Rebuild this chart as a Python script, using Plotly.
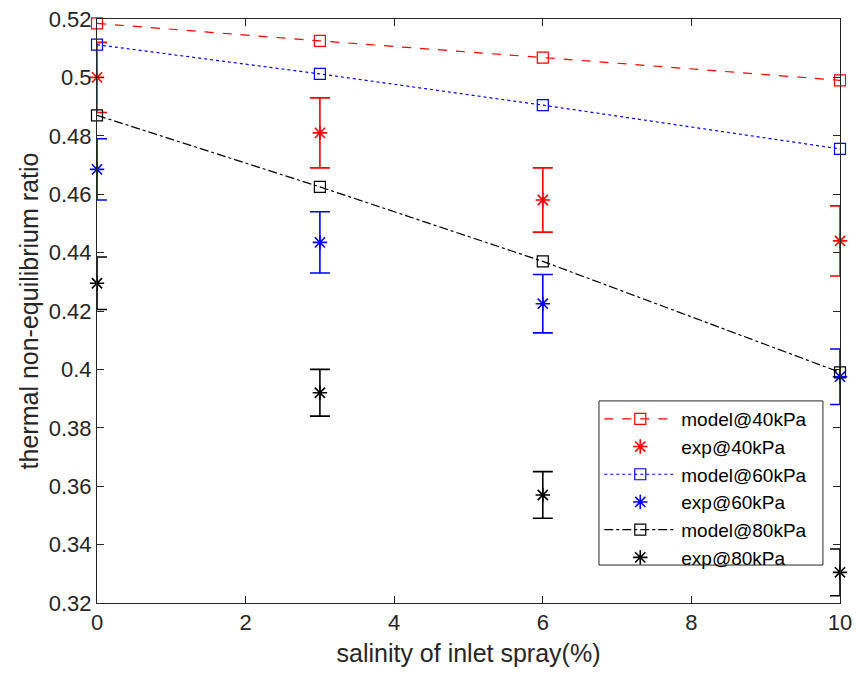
import plotly.graph_objects as go

# salinity of inlet spray (%)
salinity = [0, 3, 6, 10]

# model predictions
model_40 = [0.5185, 0.5125, 0.5068, 0.4990]
model_60 = [0.5112, 0.5012, 0.4905, 0.4755]
model_80 = [0.4870, 0.4625, 0.4370, 0.3990]

# experimental values and error half-widths
exp_40 = [0.500, 0.481, 0.458, 0.444]
err_40 = [0.012, 0.012, 0.011, 0.012]
exp_60 = [0.4685, 0.4435, 0.4225, 0.3975]
err_60 = [0.0105, 0.0105, 0.010, 0.0095]
exp_80 = [0.4295, 0.392, 0.357, 0.3305]
err_80 = [0.009, 0.008, 0.008, 0.008]

x_ticks = [0, 2, 4, 6, 8, 10]
y_ticks = [0.32, 0.34, 0.36, 0.38, 0.40, 0.42, 0.44, 0.46, 0.48, 0.50, 0.52]
y_tick_text = ["0.32", "0.34", "0.36", "0.38", "0.4", "0.42", "0.44", "0.46", "0.48", "0.5", "0.52"]

RED = "#ff0000"
BLUE = "#0000ff"
BLACK = "#000000"
AXIS = "#262626"
FONT = "Liberation Sans, Arial, sans-serif"

fig = go.Figure()


def add_model(name, y, color, dash):
    fig.add_trace(go.Scatter(
        x=salinity, y=y, name=name, mode="lines+markers", cliponaxis=False,
        line=dict(color=color, width=1.2, dash=dash),
        marker=dict(symbol="square-open", size=11, color=color, line=dict(width=1.2)),
    ))


def add_exp(name, y, err, color):
    fig.add_trace(go.Scatter(
        x=salinity, y=y, name=name, mode="markers", cliponaxis=False,
        marker=dict(symbol="asterisk-open", size=12, color=color, line=dict(width=1.6, color=color)),
        error_y=dict(type="data", array=err, visible=True, color=color, thickness=1.6, width=10),
    ))


add_model("model@40kPa", model_40, RED, "dash")
add_exp("exp@40kPa", exp_40, err_40, RED)
add_model("model@60kPa", model_60, BLUE, "dot")
add_exp("exp@60kPa", exp_60, err_60, BLUE)
add_model("model@80kPa", model_80, BLACK, "dashdot")
add_exp("exp@80kPa", exp_80, err_80, BLACK)

axis_common = dict(
    showline=True, linecolor=AXIS, linewidth=1, mirror="allticks",
    ticks="inside", ticklen=7, tickcolor=AXIS, showgrid=False, zeroline=False,
    automargin=False,
    tickfont=dict(family=FONT, size=22, color=AXIS),
)

# legend frame, drawn as a white box over the traces
fig.add_shape(type="rect", xref="paper", yref="paper",
              x0=0.6756, x1=0.977, y0=0.065, y1=0.346,
              fillcolor="white", line=dict(color=AXIS, width=1), layer="above")

fig.update_layout(
    width=856, height=677,
    margin=dict(l=97, r=16, t=19, b=74),
    paper_bgcolor="white", plot_bgcolor="white",
    font=dict(family=FONT, size=20, color=AXIS),
    xaxis=dict(range=[0, 10], tickvals=x_ticks,
               title=dict(text="salinity of inlet spray(%)", font=dict(size=25), standoff=10),
               **axis_common),
    yaxis=dict(range=[0.32, 0.52], tickvals=y_ticks, ticktext=y_tick_text,
               title=dict(text="thermal non-equilibrium ratio", font=dict(size=25), standoff=3),
               **axis_common),
    legend=dict(x=0.676, y=0.3476, xanchor="left", yanchor="top",
                bgcolor="rgba(0,0,0,0)", borderwidth=0,
                font=dict(size=19, color="#000000"), tracegroupgap=0,
                itemwidth=72),
    showlegend=True,
)

fig.write_html("out.html")
